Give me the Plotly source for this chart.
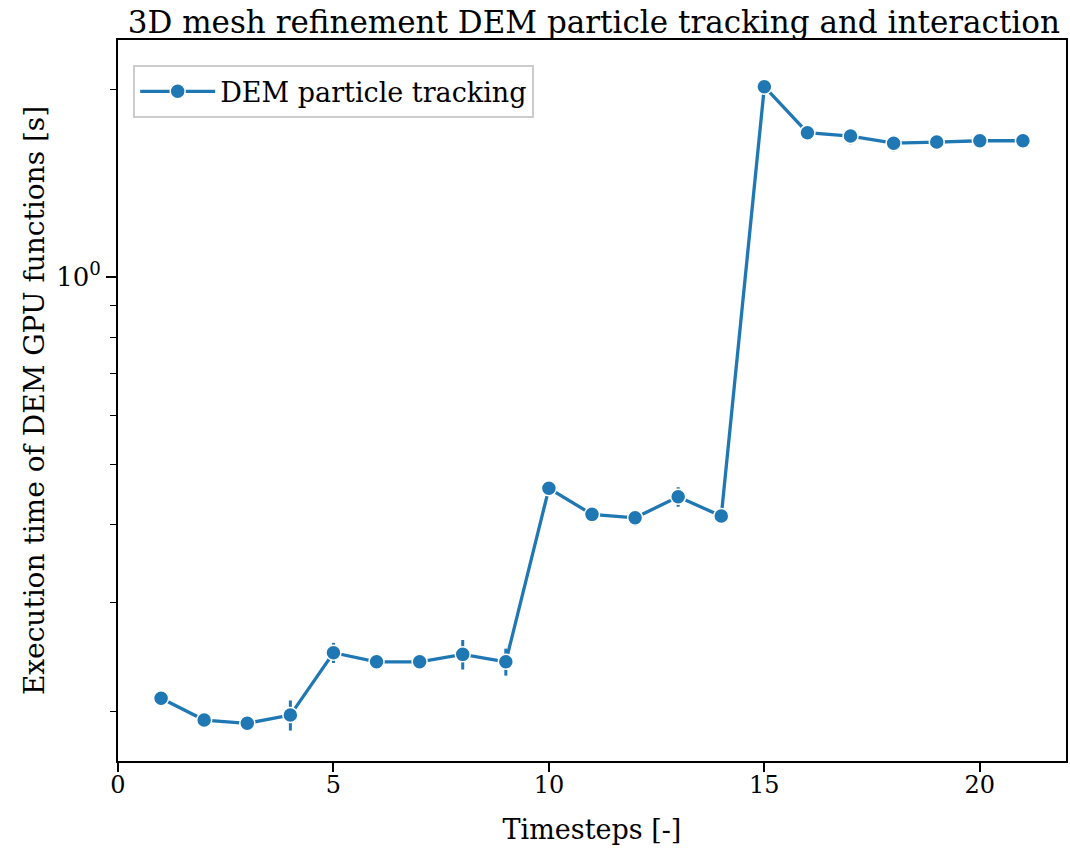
import plotly.graph_objects as go

# Timestep index and measured execution times (mean and spread over repeated runs)
timesteps = list(range(1, 22))
exec_time = [0.2103, 0.1940, 0.1917, 0.1976, 0.2489, 0.2407, 0.2407, 0.2474, 0.2407,
             0.4574, 0.4154, 0.4102, 0.4433, 0.4128,
             2.023, 1.706, 1.685, 1.641, 1.648, 1.656, 1.656]
exec_std = [0.002, 0.0043, 0.002, 0.011, 0.0093, 0.002, 0.002, 0.0135, 0.012,
            0.003, 0.003, 0.012, 0.016, 0.003,
            0.01, 0.01, 0.05, 0.048, 0.01, 0.01, 0.01]

x_ticks = [0, 5, 10, 15, 20]
y_major = [1.0]
y_major_text = ["10<sup>0</sup>"]
y_minor = [0.2, 0.3, 0.4, 0.5, 0.6, 0.7, 0.8, 0.9, 2.0]

BLUE = "#1f77b4"
FONT = "DejaVu Serif"

fig = go.Figure()
fig.add_trace(go.Scatter(
    x=timesteps, y=exec_time,
    mode="lines+markers",
    name="DEM particle tracking",
    line=dict(color=BLUE, width=3.3),
    marker=dict(color=BLUE, size=15, line=dict(color="white", width=1.5)),
    error_y=dict(type="data", array=exec_std, visible=True,
                 color=BLUE, thickness=3, width=0),
))

fig.update_layout(
    width=1070, height=853,
    margin=dict(l=118, r=2, t=40, b=92),
    paper_bgcolor="white", plot_bgcolor="white",
    font=dict(family=FONT, size=23, color="black"),
    title=dict(text="3D mesh refinement DEM particle tracking and interaction",
               x=0.555, xanchor="center", y=0.974, yanchor="middle",
               font=dict(family=FONT, size=31, color="black")),
    showlegend=True,
    legend=dict(x=0.016, y=0.965, xanchor="left", yanchor="top",
                bgcolor="white", bordercolor="#cccccc", borderwidth=2,
                font=dict(family=FONT, size=27, color="black"),
                itemwidth=75, tracegroupgap=0),
)

fig.update_xaxes(
    range=[0, 22], tickmode="array", tickvals=x_ticks,
    ticks="outside", ticklen=9, tickwidth=1.5, tickcolor="black",
    ticklabelstandoff=-8,
    showline=True, linecolor="black", linewidth=2, mirror=True,
    showgrid=False, zeroline=False,
    tickfont=dict(family=FONT, size=24),
    title=dict(text="Timesteps [-]", font=dict(family=FONT, size=27), standoff=22),
)

fig.update_yaxes(
    type="log", range=[-0.778, 0.381],
    tickmode="array", tickvals=y_major, ticktext=y_major_text,
    ticks="outside", ticklen=10, tickwidth=1.5, tickcolor="black",
    minor=dict(tickmode="array", tickvals=y_minor, ticks="outside",
               ticklen=6, tickwidth=1.2, tickcolor="black", showgrid=False),
    showline=True, linecolor="black", linewidth=2, mirror=True,
    showgrid=False, zeroline=False,
    tickfont=dict(family=FONT, size=26),
    title=dict(text="Execution time of DEM GPU functions [s]",
               font=dict(family=FONT, size=28), standoff=3),
)

fig.write_html("out.html")
